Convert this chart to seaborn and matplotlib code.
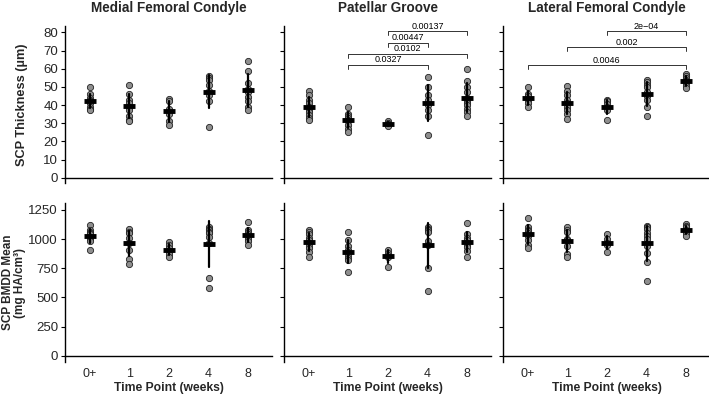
import numpy as np
import pandas as pd
import matplotlib
matplotlib.use("Agg")
import matplotlib.pyplot as plt
import seaborn as sns

time_points = ["0+", "1", "2", "4", "8"]
regions = ["Medial Femoral Condyle", "Patellar Groove", "Lateral Femoral Condyle"]

# SCP thickness (um), one list per time point
mfc_thickness = [
    [50, 46, 44, 43, 42, 41, 39, 38, 37],
    [51, 46, 43, 41, 39, 37, 34, 32, 31],
    [43.5, 42.5, 38, 35, 31, 29],
    [56, 55, 54, 51, 48, 45.5, 42, 28],
    [64.5, 58.5, 52, 49, 47, 44.5, 42, 39, 37],
]
pg_thickness = [
    [48, 45.5, 43, 41, 39, 37, 36, 34.5, 33, 32],
    [39, 35, 34, 33, 32, 31, 29, 27, 25],
    [31, 30, 29.5, 29, 28.5],
    [55.5, 50, 45.5, 43, 40, 37, 34, 23.5],
    [60, 53, 50, 47, 44, 42, 41, 40, 38, 36, 34],
]
lfc_thickness = [
    [50, 46, 45, 43, 41, 39],
    [50.5, 48, 45.5, 43, 41, 39, 37, 35, 32.5],
    [43, 42, 40.5, 39, 37, 32],
    [54, 52.5, 51, 50, 47, 45, 43, 39, 34],
    [57, 56, 55, 54, 53, 52, 50.5, 49.5],
]

# SCP BMDD mean (mg HA/cm3)
mfc_bmdd = [
    [1120, 1080, 1060, 1050, 1040, 1020, 1000, 980, 910],
    [1085, 1060, 1050, 1010, 970, 910, 830, 790],
    [975, 950, 920, 900, 875, 845],
    [1100, 1090, 1080, 1060, 1050, 1020, 970, 665, 580],
    [1150, 1080, 1060, 1040, 1020, 1000, 980, 950],
]
pg_bmdd = [
    [1080, 1060, 1040, 1010, 990, 970, 940, 920, 890, 850],
    [1060, 990, 940, 910, 890, 860, 840, 820, 715],
    [910, 880, 860, 845, 765],
    [1100, 1090, 1080, 1060, 980, 950, 755, 555],
    [1140, 1040, 1010, 990, 970, 950, 930, 900, 850],
]
lfc_bmdd = [
    [1180, 1100, 1080, 1070, 1050, 1030, 990, 950, 920],
    [1105, 1080, 1060, 1000, 990, 940, 870, 845],
    [1040, 1000, 970, 950, 890],
    [1112, 1100, 1084, 1055, 1027, 998, 941, 884, 801, 641],
    [1130, 1110, 1100, 1080, 1065, 1050, 1030],
]

# significance brackets: (group a, group b, p label)
pg_brackets = [("2", "8", "0.00137"), ("2", "4", "0.00447"),
               ("1", "8", "0.0102"), ("1", "4", "0.0327")]
pg_bracket_y = [80.7, 74.4, 68.3, 62.2]
lfc_brackets = [("2", "8", "2e\u221204"), ("1", "8", "0.002"), ("0+", "8", "0.0046")]
lfc_bracket_y = [80.7, 71.7, 62.0]


def to_long(groups, region, metric):
    rows = []
    for tp, vals in zip(time_points, groups):
        for v in vals:
            rows.append({"region": region, "metric": metric, "time": tp, "value": v})
    return rows


rows = []
for reg, th, bm in zip(regions, [mfc_thickness, pg_thickness, lfc_thickness],
                       [mfc_bmdd, pg_bmdd, lfc_bmdd]):
    rows += to_long(th, reg, "thick")
    rows += to_long(bm, reg, "bmdd")
df = pd.DataFrame(rows)

sns.set_theme(style="ticks")
plt.rcParams["font.family"] = ["Liberation Sans", "DejaVu Sans"]

fig = plt.figure(figsize=(7.09, 3.95), dpi=100)
W, H = 709, 395
panel_w = 207
gap = 12
left0 = 65
rows_px = [(26, 183), (203, 362)]
ylims = [(-2.9, 83.5), (-54, 1310)]
yticks = [np.arange(0, 81, 10), np.arange(0, 1251, 250)]
metrics = ["thick", "bmdd"]

brackets = {"Patellar Groove": (pg_brackets, pg_bracket_y),
            "Lateral Femoral Condyle": (lfc_brackets, lfc_bracket_y)}

for r, metric in enumerate(metrics):
    top, bot = rows_px[r]
    for c, reg in enumerate(regions):
        x0 = left0 + c * (panel_w + gap)
        ax = fig.add_axes([x0 / W, 1 - bot / H, panel_w / W, (bot - top) / H])
        sub = df[(df.region == reg) & (df.metric == metric)]

        sns.stripplot(data=sub, x="time", y="value", order=time_points, jitter=False,
                      color="#8e8e8e", edgecolor="#222222", linewidth=0.6, size=4.5,
                      ax=ax, zorder=2)
        sns.pointplot(data=sub, x="time", y="value", order=time_points, errorbar="sd",
                      color="black", linestyle="none", marker="_", markersize=9,
                      markeredgewidth=3.5, err_kws={"linewidth": 1.6}, ax=ax, zorder=3)

        ax.set_xlim(-0.62, 4.6)
        ax.set_ylim(*ylims[r])
        ax.set_yticks(yticks[r])
        sns.despine(ax=ax)
        ax.spines["bottom"].set_position(("data", 0))
        for s in ["left", "bottom"]:
            ax.spines[s].set_linewidth(1.0)
            ax.spines[s].set_color("black")
        ax.tick_params(axis="y", length=3, width=0.8, color="black", labelsize=9.5, pad=2)
        ax.tick_params(axis="x", length=0, labelsize=9, pad=9)
        ax.set_xlabel("")
        ax.set_ylabel("")
        if c > 0:
            ax.set_yticklabels([])
        if r == 0:
            ax.set_xticklabels([])
            ax.set_title(reg, fontsize=9.75, fontweight="bold", pad=10)
        else:
            ax.set_xlabel("Time Point (weeks)", fontsize=8.75, fontweight="bold", labelpad=1.5)

        if r == 0 and reg in brackets:
            blist, ylev = brackets[reg]
            for (a, b, lab), yl in zip(blist, ylev):
                xa, xb = time_points.index(a), time_points.index(b)
                ax.plot([xa, xa, xb, xb], [yl - 2.2, yl, yl, yl - 2.2], color="#333333",
                        lw=0.7, clip_on=False)
                ax.text((xa + xb) / 2, yl + 0.3, lab, ha="center", va="bottom",
                        fontsize=6.5, color="black")

        if c == 0:
            if r == 0:
                ax.set_ylabel("SCP Thickness (\u00b5m)", fontsize=9.2, fontweight="bold")
                ax.yaxis.set_label_coords(-0.178, 0.5)
            else:
                ax.set_ylabel("SCP BMDD Mean\n(mg HA/cm\u00b3)", fontsize=8.5,
                              fontweight="bold", linespacing=0.95)
                ax.yaxis.set_label_coords(-0.19, 0.5)

fig.savefig("out.png", dpi=100)
